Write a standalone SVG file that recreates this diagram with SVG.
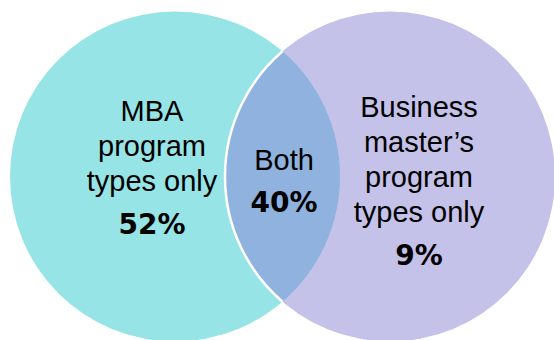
<svg xmlns="http://www.w3.org/2000/svg" width="554" height="340" viewBox="0 0 554 340">
<style>
.lbl{font-family:"Liberation Sans",Arial,sans-serif;font-size:29px;fill:#000;text-anchor:middle}
.pct{font-family:"DejaVu Sans",Verdana,sans-serif;font-weight:bold;font-size:28px;fill:#000;text-anchor:middle}
</style>
<rect width="554" height="340" fill="#fff"/>
<g id="mba">
<circle cx="175" cy="176.5" r="165" fill="#96E4E6"/>
</g>
<g id="business">
<circle cx="390" cy="176.5" r="165" fill="#C5C2EA"/>
</g>
<g id="both">
<path d="M282.5,51.3 A165,165 0 0 1 282.5,301.7 A165,165 0 0 1 282.5,51.3 Z" fill="#8FB3DE"/>
<path d="M282.5,51.3 A165,165 0 0 0 282.5,301.7" fill="none" stroke="#fff" stroke-width="2.5"/>
</g>
<g id="mba-label">
<text class="lbl" x="152" y="121">MBA</text>
<text class="lbl" x="152" y="156">program</text>
<text class="lbl" x="152" y="191">types only</text>
<text class="pct" x="152" y="234">52%</text>
</g>
<g id="both-label">
<text class="lbl" x="284" y="170">Both</text>
<text class="pct" x="284" y="212">40%</text>
</g>
<g id="business-label">
<text class="lbl" x="419" y="116.5">Business</text>
<text class="lbl" x="419" y="151.5">master’s</text>
<text class="lbl" x="419" y="186.5">program</text>
<text class="lbl" x="419" y="221.5">types only</text>
<text class="pct" x="419" y="265">9%</text>
</g>
</svg>
